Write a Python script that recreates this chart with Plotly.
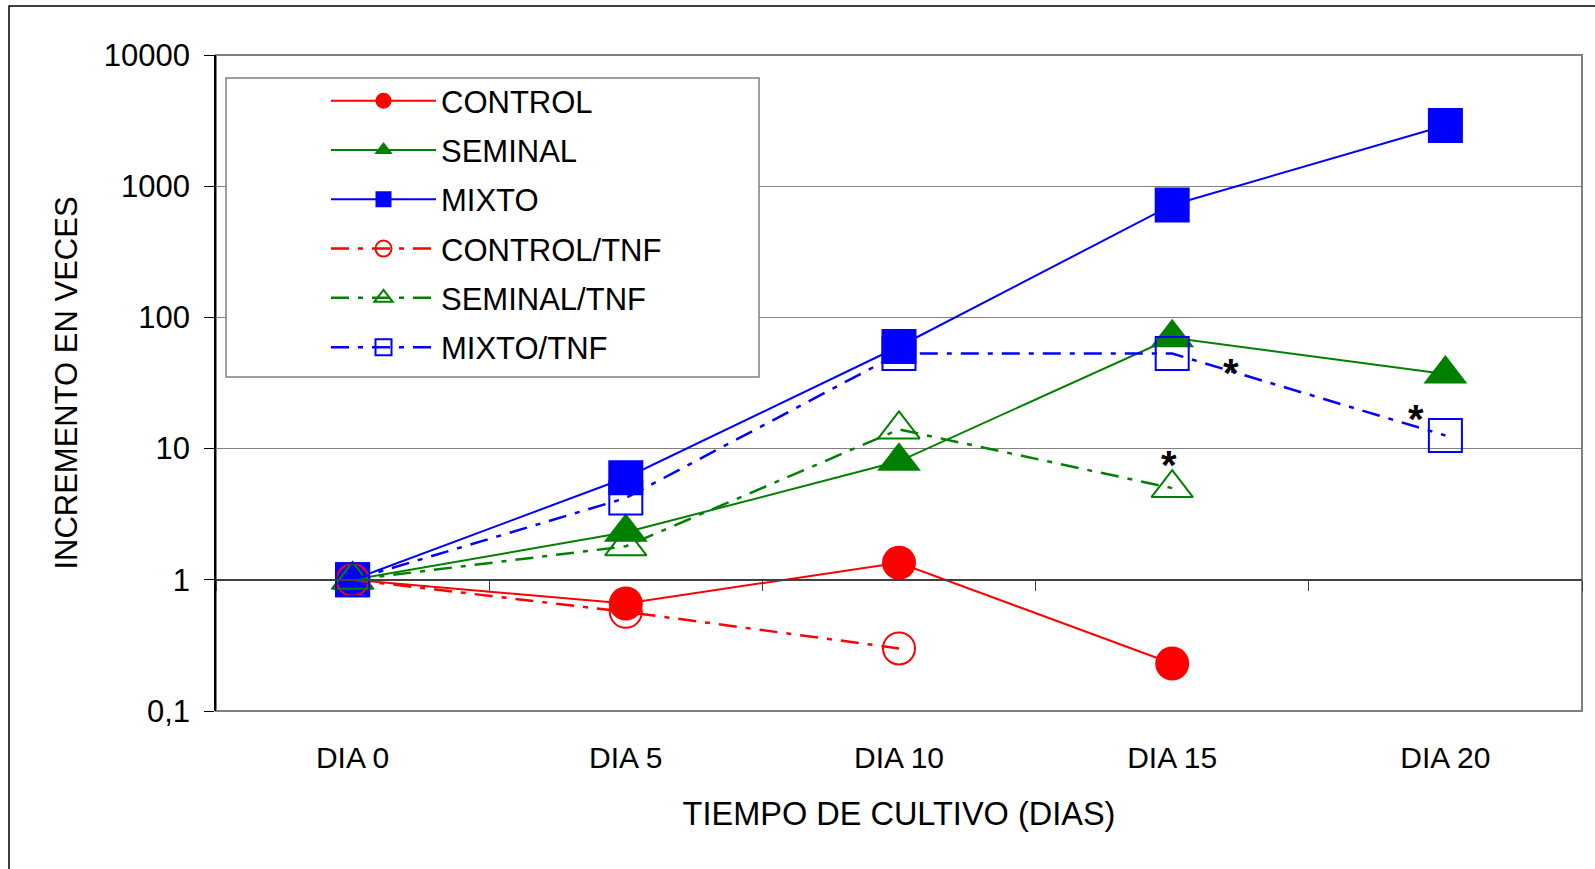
import math
import plotly.graph_objects as go

# ---------------- data ----------------
categories = ["DIA 0", "DIA 5", "DIA 10", "DIA 15", "DIA 20"]
control = [1, 0.66, 1.35, 0.23, None]
seminal = [1, 2.3, 8.0, 70, 37]
mixto = [1, 6.0, 60, 720, 2900]
control_tnf = [1, 0.57, 0.30, None, None]
seminal_tnf = [1, 1.8, 14, 5.0, None]
mixto_tnf = [1, 4.2, 53, 53, 12.6]

y_tickvals = [0.1, 1, 10, 100, 1000, 10000]
y_ticktext = ["0,1", "1", "10", "100", "1000", "10000"]

# significance asterisks (category position, value)
star_x = [3.215, 3.894, 2.99]
star_y = [43.7, 19.2, 8.7]

# ---------------- style ----------------
FONT = "Liberation Sans, Arial, sans-serif"
RED, GREEN, BLUE = "#FF0000", "#008000", "#0000FF"
DASHDOT = "18px,9px,5px,9px"
xpos = list(range(len(categories)))
boundaries = [i - 0.5 for i in range(len(categories) + 1)]

series = [
    ("CONTROL", control, RED, "solid", "circle", 34),
    ("SEMINAL", seminal, GREEN, "solid", "triangle-up", 38),
    ("MIXTO", mixto, BLUE, "solid", "square", 35),
    ("CONTROL/TNF", control_tnf, RED, DASHDOT, "circle-open", 32),
    ("SEMINAL/TNF", seminal_tnf, GREEN, DASHDOT, "triangle-up-open", 36),
    ("MIXTO/TNF", mixto_tnf, BLUE, DASHDOT, "square-open", 33),
]

fig = go.Figure()
for name, vals, col, dash, sym, size in series:
    is_open = sym.endswith("open")
    fig.add_trace(go.Scatter(
        x=xpos, y=vals, name=name, legendgroup=name,
        mode="lines+markers",
        line=dict(color=col, width=2.5 if is_open else 2, dash=dash),
        marker=dict(symbol=sym, size=size, color=col,
                    line=dict(color=col, width=2 if is_open else 0)),
    ))

# empty trace so the category axis crossing at 1 is rendered
fig.add_trace(go.Scatter(x=[None], y=[None], xaxis="x2", yaxis="y",
                         showlegend=False, hoverinfo="skip", mode="lines"))

W, H = 1595, 869
L, R, T, B = 216, 13, 55, 158
pw, ph = W - L - R, H - T - B


def px_x(p):
    return (p - L) / pw


def px_y(p):
    return (H - B - p) / ph


annotations = []
for sx, sy in zip(star_x, star_y):
    annotations.append(dict(
        x=sx, y=math.log10(sy), xref="x", yref="y", text="<b>*</b>",
        showarrow=False, font=dict(family=FONT, size=40, color="black"),
        yshift=-8,
    ))

shapes = [
    # plot-area frame
    dict(type="rect", xref="paper", yref="paper", x0=0, x1=1, y0=0, y1=1,
         line=dict(color="#808080", width=2), layer="below"),
    # legend box
    dict(type="rect", xref="paper", yref="paper",
         x0=px_x(226), x1=px_x(759), y0=px_y(377), y1=px_y(78),
         fillcolor="white", line=dict(color="#808080", width=1.5), layer="above"),
    # outer chart border
    dict(type="rect", xref="paper", yref="paper",
         x0=px_x(9), x1=px_x(W + 10), y0=px_y(H + 10), y1=px_y(6),
         line=dict(color="black", width=1.5), layer="below"),
]

fig.update_layout(
    width=W, height=H,
    margin=dict(l=L, r=R, t=T, b=B),
    paper_bgcolor="white", plot_bgcolor="white",
    font=dict(family=FONT, color="black"),
    showlegend=True,
    legend=dict(
        x=px_x(326), y=px_y(74), xanchor="left", yanchor="top",
        bgcolor="rgba(0,0,0,0)", borderwidth=0,
        font=dict(family=FONT, size=31, color="black"),
        itemwidth=105, tracegroupgap=6,
    ),
    xaxis=dict(
        range=[-0.5, 4.5], tickvals=xpos, ticktext=categories,
        showgrid=False, zeroline=False, showline=False, ticks="",
        tickfont=dict(family=FONT, size=30), ticklabelstandoff=26,
        title=dict(text="TIEMPO DE CULTIVO (DIAS)", font=dict(family=FONT, size=32.5), standoff=29),
    ),
    xaxis2=dict(
        overlaying="x", anchor="free", position=0.2, side="bottom",
        range=[-0.5, 4.5], tickvals=boundaries,
        ticks="outside", ticklen=10, tickcolor="#404040", tickwidth=1,
        showline=True, linecolor="#404040", linewidth=1.5,
        showticklabels=False, showgrid=False, zeroline=False,
    ),
    yaxis=dict(
        type="log", range=[-1, 4], tickvals=y_tickvals, ticktext=y_ticktext,
        showgrid=True, gridcolor="#808080", gridwidth=1,
        ticks="outside", ticklen=10, tickcolor="black", tickwidth=1,
        showline=True, linecolor="black", linewidth=1.5, zeroline=False,
        tickfont=dict(family=FONT, size=31), ticklabelstandoff=8,
        title=dict(text="INCREMENTO EN VECES", font=dict(family=FONT, size=31), standoff=17),
    ),
    annotations=annotations,
    shapes=shapes,
)

fig.write_html("out.html")
